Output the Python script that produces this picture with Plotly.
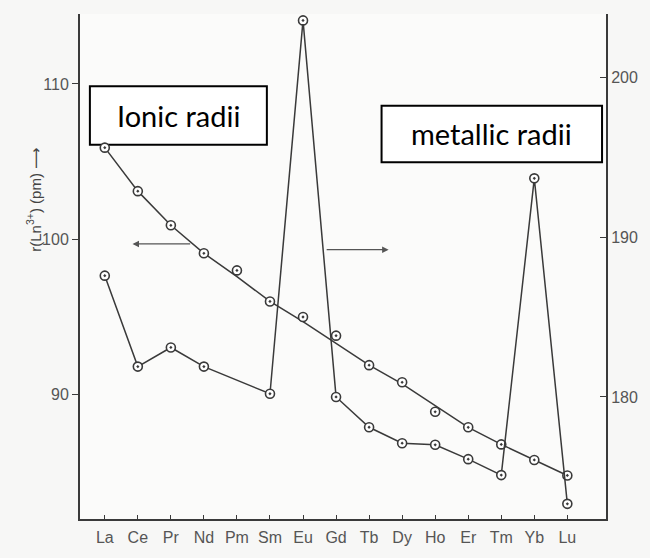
import plotly.graph_objects as go

elements = ["La", "Ce", "Pr", "Nd", "Pm", "Sm", "Eu", "Gd", "Tb", "Dy", "Ho", "Er", "Tm", "Yb", "Lu"]
ionic_radii = [105.9, 103.1, 100.9, 99.1, 98.0, 96.0, 95.0, 93.8, 91.9, 90.8, 88.9, 87.9, 86.8, 85.8, 84.8]
ionic_curve = [105.9, 103.1, 100.9, 99.1, 97.6, 96.0, 94.7, 93.3, 91.9, 90.7, 89.3, 87.9, 86.8, 85.8, 84.8]
metallic_radii = [187.6, 181.9, 183.1, 181.9, None, 180.2, 203.6, 180.0, 178.1, 177.1, 177.0, 176.1, 175.1, 193.7, 173.3]

left_ticks = [90, 100, 110]
right_ticks = [180, 190, 200]

idx = list(range(len(elements)))
ink = "#3a3a3a"
marker = dict(symbol="circle-dot", size=9, color="white", line=dict(color=ink, width=1.6))

fig = go.Figure()
fig.add_trace(go.Scatter(x=idx, y=ionic_curve, mode="lines", line=dict(color=ink, width=1.5),
                         hoverinfo="skip", showlegend=False))
fig.add_trace(go.Scatter(x=idx, y=ionic_radii, mode="markers", marker=marker, showlegend=False))
fig.add_trace(go.Scatter(x=idx, y=metallic_radii, mode="lines+markers", connectgaps=True,
                         line=dict(color=ink, width=1.5), marker=marker, yaxis="y2", showlegend=False))

tickfont = dict(family="Liberation Sans, Arial, sans-serif", size=16, color="#555")

fig.update_layout(
    width=650, height=558,
    margin=dict(l=80, r=38, t=14, b=26),
    paper_bgcolor="#f7f7f6", plot_bgcolor="#fbfbfa",
    xaxis=dict(range=[-0.75, 15.17], tickmode="array", tickvals=idx, ticktext=elements,
               showgrid=False, zeroline=False, showline=True, linecolor=ink, linewidth=2,
               ticks="inside", ticklen=4, tickcolor=ink, tickfont=tickfont, ticklabelstandoff=3),
    yaxis=dict(range=[82, 114.5], tickmode="array", tickvals=left_ticks,
               showgrid=False, zeroline=False, showline=True, linecolor=ink, linewidth=2,
               ticks="outside", ticklen=6, tickcolor=ink, tickfont=tickfont),
    yaxis2=dict(range=[172.35, 204.0], overlaying="y", side="right", tickmode="array",
                tickvals=right_ticks, showgrid=False, zeroline=False, showline=True,
                linecolor=ink, linewidth=2, ticks="inside", ticklen=6, tickcolor=ink,
                tickfont=tickfont),
)

# arrows indicating which axis each curve uses
fig.add_annotation(x=0.84, y=99.7, ax=2.63, ay=99.7, xref="x", yref="y", axref="x", ayref="y",
                   text="", showarrow=True, arrowhead=2, arrowsize=1, arrowwidth=1.3, arrowcolor="#555")
fig.add_annotation(x=8.59, y=99.33, ax=6.67, ay=99.33, xref="x", yref="y", axref="x", ayref="y",
                   text="", showarrow=True, arrowhead=2, arrowsize=1, arrowwidth=1.3, arrowcolor="#555")

def px_x(p):
    return (p - 80) / 532
def px_y(p):
    return 1 - (p - 14) / 518

# y-axis title
fig.add_annotation(x=px_x(33), y=px_y(205), xref="paper", yref="paper", xanchor="center", yanchor="middle",
                   text="r(Ln<sup>3+</sup>) (pm) ⟶", showarrow=False, textangle=-90,
                   font=dict(family="Liberation Sans, DejaVu Sans, sans-serif", size=15, color="#444"))

# label boxes
for (x0, y0, x1, y1, label) in [(90, 88, 269, 148, "Ionic radii"), (385, 108, 608, 166, "metallic radii")]:
    fig.add_shape(type="rect", xref="paper", yref="paper", x0=px_x(x0), x1=px_x(x1), y0=px_y(y1), y1=px_y(y0),
                  line=dict(color="black", width=2), fillcolor="white", layer="below")
    fig.add_annotation(x=px_x((x0 + x1) / 2), y=px_y((y0 + y1) / 2), xref="paper", yref="paper",
                       xanchor="center", yanchor="middle", text=label, showarrow=False,
                       font=dict(family="Lato, Open Sans, sans-serif", size=29, color="black"))

fig.write_html("out.html", post_script="document.body.style.margin='0px';",
               config={"displayModeBar": False})
